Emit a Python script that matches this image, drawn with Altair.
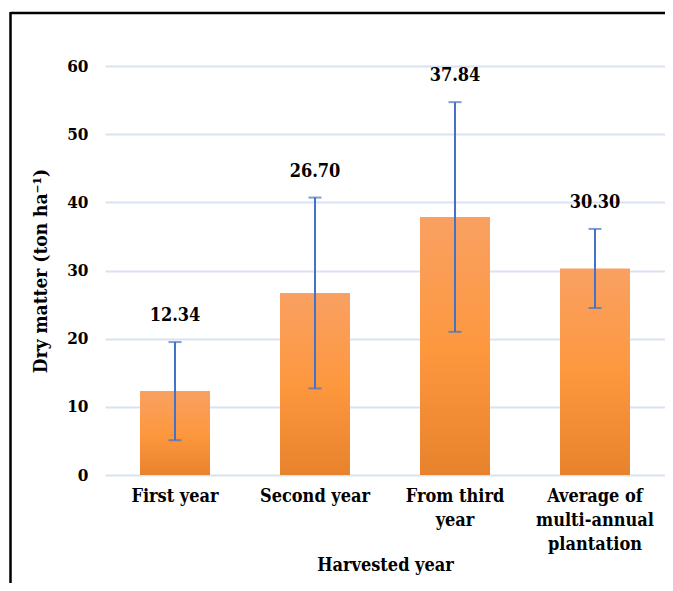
import altair as alt
import pandas as pd

categories = ["First year", "Second year", "From third\nyear", "Average of\nmulti-annual\nplantation"]
means = [12.34, 26.70, 37.84, 30.30]
lower = [5.1, 12.7, 21.0, 24.5]
upper = [19.5, 40.7, 54.7, 36.1]
labels = ["12.34", "26.70", "37.84", "30.30"]
y_ticks = [0, 10, 20, 30, 40, 50, 60]

df = pd.DataFrame({"cat": categories, "mean": means, "lo": lower, "hi": upper, "lab": labels})

FONT = "DejaVu Serif Condensed, DejaVu Serif"
x_enc = alt.X("cat:N", sort=categories, title="Harvested year",
              scale=alt.Scale(paddingInner=0.5, paddingOuter=0.25),
              axis=alt.Axis(labelAngle=0, labelExpr="split(datum.label, '\\n')",
                            labelFont=FONT, labelFontSize=18, labelFontWeight="bold",
                            labelColor="black", labelPadding=12, labelLineHeight=24,
                            domain=False, ticks=False,
                            titleFont=FONT, titleFontSize=18, titleFontWeight="bold",
                            titleColor="black", titlePadding=3))
y_scale = alt.Scale(domain=[0, 60], nice=False)

base = alt.Chart(df)

bars = base.mark_bar(
    color=alt.Gradient(gradient="linear", x1=0, x2=0, y1=0, y2=1,
                       stops=[alt.GradientStop(color="#F9A062", offset=0),
                              alt.GradientStop(color="#FD983F", offset=0.5),
                              alt.GradientStop(color="#E8832D", offset=1)])
).encode(
    x=x_enc,
    y=alt.Y("mean:Q", scale=y_scale, title="Dry matter (ton  ha⁻¹)",
            axis=alt.Axis(values=y_ticks, labelFont=FONT, labelFontSize=17,
                          labelFontWeight="bold", labelColor="black", labelPadding=17,
                          domain=False, ticks=False, grid=True, gridColor="#D9E2F3",
                          gridWidth=2, titleFont=FONT, titleFontSize=19,
                          titleFontWeight="bold", titleColor="black", titlePadding=16)),
)

err = base.mark_rule(color="#4472C4", strokeWidth=2).encode(
    x=alt.X("cat:N", sort=categories), y=alt.Y("lo:Q", scale=y_scale), y2="hi:Q")
cap_hi = base.mark_tick(color="#4472C4", thickness=2, size=13, orient="horizontal").encode(
    x=alt.X("cat:N", sort=categories), y=alt.Y("hi:Q", scale=y_scale))
cap_lo = base.mark_tick(color="#4472C4", thickness=2, size=13, orient="horizontal").encode(
    x=alt.X("cat:N", sort=categories), y=alt.Y("lo:Q", scale=y_scale))
text = base.mark_text(font=FONT, fontSize=18, fontWeight="bold", color="black",
                      dy=-26, baseline="middle").encode(
    x=alt.X("cat:N", sort=categories), y=alt.Y("hi:Q", scale=y_scale), text="lab:N")

line_df = pd.DataFrame({"a": [0]})
frame_top = alt.Chart(line_df).mark_rule(color="black", strokeWidth=2.5, clip=False).encode(
    x=alt.value(-94.5), x2=alt.value(580), y=alt.value(-53))
frame_left = alt.Chart(line_df).mark_rule(color="black", strokeWidth=2.5, clip=False).encode(
    x=alt.value(-94.5), y=alt.value(-54), y2=alt.value(700))

chart = alt.layer(bars, err, cap_hi, cap_lo, text, frame_top, frame_left).properties(
    width=560, height=409,
    autosize=alt.AutoSizeParams(type="none"),
    padding={"left": 97, "top": 58, "right": 0, "bottom": 108},
    background="white",
).configure_view(stroke=None)

chart.save("out.html", embed_options={"renderer": "svg", "actions": False})
